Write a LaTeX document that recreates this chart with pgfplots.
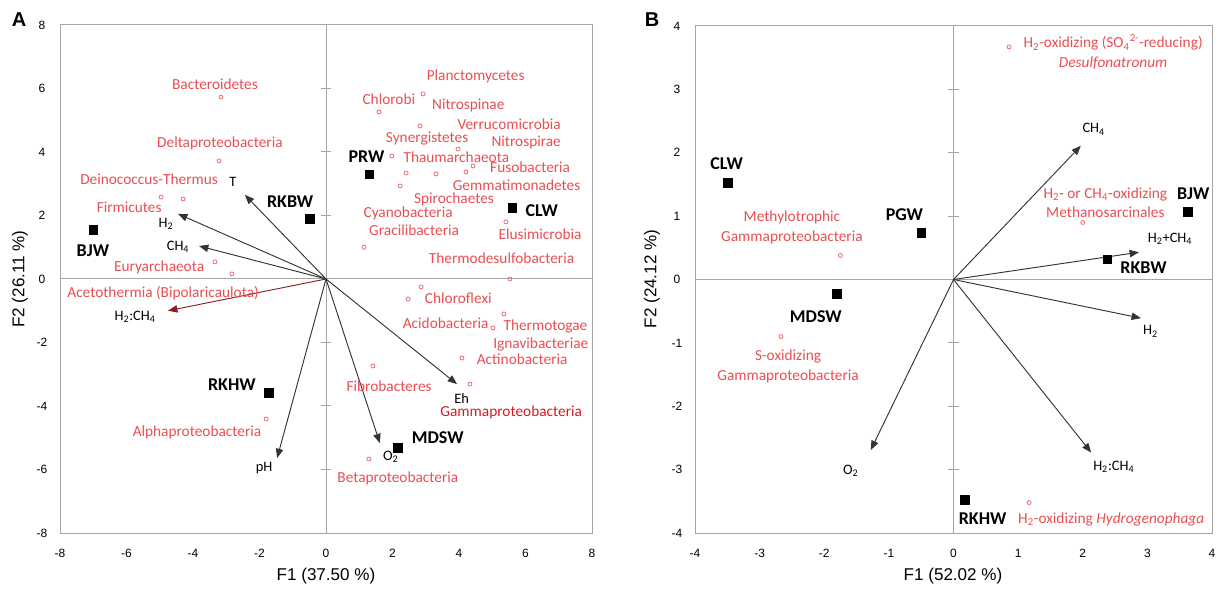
\documentclass[border=0pt]{standalone}
\usepackage{pgfplots}
\pgfplotsset{compat=1.18}
\usepackage{fontspec}
\setmainfont{Carlito}
\newfontfamily\arial{Liberation Sans}
\usetikzlibrary{arrows.meta}

\definecolor{boxgray}{RGB}{165,165,165}
\definecolor{taxred}{RGB}{232,78,82}
\definecolor{gammared}{RGB}{215,25,35}
\definecolor{ptpink}{RGB}{236,110,110}
\definecolor{darkred}{RGB}{140,30,30}

\tikzset{
  taxon/.style={text=taxred, font=\fontsize{11.5}{14.5}\selectfont, inner sep=0pt, align=center},
  site/.style={font=\bfseries\fontsize{13.5}{16}\selectfont, inner sep=0pt},
  vlab/.style={font=\fontsize{10.8}{13}\selectfont, inner sep=0pt},
}
\pgfplotsset{
  biplot/.style={
    scale only axis, anchor=south west, clip=false,
    major tick length=0pt,
    axis line style={draw=boxgray, line width=0.75pt},
    tick label style={font=\arial\fontsize{9}{10}\selectfont},
    yticklabel style={anchor=center, xshift=-13.5pt},
    xticklabel style={anchor=center, yshift=-15pt},
  },
  vec/.style={line width=0.7pt, draw=black!80, -{Triangle[length=7pt,width=5.5pt]}},
  taxpts/.style={only marks, mark=o, mark size=1.5pt, mark options={draw=ptpink, line width=0.6pt}},
  sitepts/.style={only marks, mark=square*, mark size=3.3pt, black},
}

\begin{document}
\begin{tikzpicture}
\useasboundingbox (0,0) rectangle (914.25pt,444pt);

% ---------------- panel A ----------------
\begin{axis}[biplot,
    at={(45pt,44.25pt)}, width=399pt, height=381pt,
    xmin=-8, xmax=8, ymin=-8, ymax=8,
    xtick={-8,-6,-4,-2,0,2,4,6,8}, xticklabels={-8,-6,-4,-2,0,2,4,6,8},
    ytick={-8,-6,-4,-2,0,2,4,6,8}, yticklabels={-8,-6,-4,-2,0,2,4,6,8},
]
\draw[boxgray, line width=0.75pt] (axis cs:0,-8) -- (axis cs:0,8);
\draw[boxgray, line width=0.75pt] (axis cs:-8,0) -- (axis cs:8,0);
\pgfplotsinvokeforeach{-8,-6,-4,-2,0,2,4,6,8}{
  \draw[boxgray, line width=0.75pt] ([xshift=-4pt]axis cs:0,#1) -- ([xshift=4pt]axis cs:0,#1);
}

% environmental vectors
\addplot[vec] coordinates {(0,0) (-2.44,2.65)};
\addplot[vec] coordinates {(0,0) (-4.45,2.05)};
\addplot[vec] coordinates {(0,0) (-3.82,1.04)};
\addplot[vec, draw=darkred] coordinates {(0,0) (-4.75,-1.00)};
\addplot[vec] coordinates {(0,0) (-1.47,-5.64)};
\addplot[vec] coordinates {(0,0) (3.94,-3.31)};
\addplot[vec] coordinates {(0,0) (1.62,-5.17)};

% taxa
\addplot[taxpts] coordinates {
  (-3.16,5.73) (-3.22,3.72) (-4.96,2.58) (-4.30,2.52) (-3.34,0.54) (-2.83,0.16)
  (-1.80,-4.41) (2.92,5.83) (1.59,5.26) (2.83,4.82) (3.97,4.09) (1.98,3.87)
  (4.42,3.56) (4.21,3.37) (2.41,3.34) (3.31,3.31) (2.23,2.93) (1.14,1.00)
  (5.41,1.80) (5.53,0.00) (2.86,-0.25) (2.47,-0.63) (5.02,-1.54) (5.35,-1.10)
  (4.09,-2.49) (1.41,-2.74) (4.33,-3.31) (1.29,-5.67)
};

% sites
\addplot[sitepts] coordinates {
  (-7.00,1.55) (-0.50,1.90) (1.30,3.30) (5.60,2.24) (-1.71,-3.59) (2.17,-5.32)
};

\node[site] at (axis cs:-7.01,0.88) {BJW};
\node[site] at (axis cs:-1.08,2.43) {RKBW};
\node[site] at (axis cs:1.22,3.85) {PRW};
\node[site] at (axis cs:6.49,2.14) {CLW};
\node[site] at (axis cs:-2.83,-3.34) {RKHW};
\node[site] at (axis cs:3.36,-5.00) {MDSW};

\node[vlab] at (axis cs:-2.80,3.06) {T};
\node[vlab] at (axis cs:-4.81,1.73) {H\textsubscript{2}};
\node[vlab] at (axis cs:-4.45,1.01) {CH\textsubscript{4}};
\node[vlab] at (axis cs:-5.74,-1.20) {H\textsubscript{2}:CH\textsubscript{4}};
\node[vlab] at (axis cs:-1.86,-5.95) {pH};
\node[vlab] at (axis cs:4.08,-3.75) {Eh};
\node[vlab] at (axis cs:1.95,-5.61) {O\textsubscript{2}};

\node[taxon] at (axis cs:-3.34,6.14) {Bacteroidetes};
\node[taxon] at (axis cs:-3.19,4.28) {Deltaproteobacteria};
\node[taxon] at (axis cs:-5.32,3.15) {Deinococcus-Thermus};
\node[taxon] at (axis cs:-5.92,2.27) {Firmicutes};
\node[taxon] at (axis cs:-5.02,0.38) {Euryarchaeota};
\node[taxon] at (axis cs:-4.90,-0.44) {Acetothermia (Bipolaricaulota)};
\node[taxon] at (axis cs:-3.88,-4.82) {Alphaproteobacteria};
\node[taxon] at (axis cs:4.50,6.37) {Planctomycetes};
\node[taxon] at (axis cs:1.89,5.66) {Chlorobi};
\node[taxon] at (axis cs:4.28,5.48) {Nitrospinae};
\node[taxon] at (axis cs:5.51,4.88) {Verrucomicrobia};
\node[taxon] at (axis cs:3.04,4.42) {Synergistetes};
\node[taxon] at (axis cs:6.02,4.30) {Nitrospirae};
\node[taxon] at (axis cs:3.92,3.83) {Thaumarchaeota};
\node[taxon] at (axis cs:6.14,3.51) {Fusobacteria};
\node[taxon] at (axis cs:5.73,2.96) {Gemmatimonadetes};
\node[taxon] at (axis cs:3.85,2.50) {Spirochaetes};
\node[taxon] at (axis cs:2.47,2.06) {Cyanobacteria};
\node[taxon] at (axis cs:2.65,1.52) {Gracilibacteria};
\node[taxon] at (axis cs:6.44,1.41) {Elusimicrobia};
\node[taxon] at (axis cs:5.28,0.65) {Thermodesulfobacteria};
\node[taxon] at (axis cs:3.98,-0.60) {Chloroflexi};
\node[taxon] at (axis cs:3.60,-1.39) {Acidobacteria};
\node[taxon] at (axis cs:6.60,-1.51) {Thermotogae};
\node[taxon] at (axis cs:6.46,-2.05) {Ignavibacteriae};
\node[taxon] at (axis cs:5.90,-2.52) {Actinobacteria};
\node[taxon] at (axis cs:1.90,-3.37) {Fibrobacteres};
\node[taxon, text=gammared] at (axis cs:5.57,-4.19) {Gammaproteobacteria};
\node[taxon] at (axis cs:2.16,-6.27) {Betaproteobacteria};
\end{axis}

% ---------------- panel B ----------------
\begin{axis}[biplot,
    at={(521.25pt,44.25pt)}, width=387.75pt, height=380.25pt,
    xmin=-4, xmax=4, ymin=-4, ymax=4,
    xtick={-4,-3,-2,-1,0,1,2,3,4}, xticklabels={-4,-3,-2,-1,0,1,2,3,4},
    ytick={-4,-3,-2,-1,0,1,2,3,4}, yticklabels={-4,-3,-2,-1,0,1,2,3,4},
]
\draw[boxgray, line width=0.75pt] (axis cs:0,-4) -- (axis cs:0,4);
\draw[boxgray, line width=0.75pt] (axis cs:-4,0) -- (axis cs:4,0);
\pgfplotsinvokeforeach{-4,-3,-2,-1,0,1,2,3,4}{
  \draw[boxgray, line width=0.75pt] ([xshift=-4pt]axis cs:0,#1) -- ([xshift=4pt]axis cs:0,#1);
}

\addplot[vec] coordinates {(0,0) (1.97,2.11)};
\addplot[vec] coordinates {(0,0) (2.87,0.43)};
\addplot[vec] coordinates {(0,0) (2.90,-0.61)};
\addplot[vec] coordinates {(0,0) (2.13,-2.73)};
\addplot[vec] coordinates {(0,0) (-1.28,-2.69)};

\addplot[taxpts] coordinates {
  (-1.75,0.38) (-2.67,-0.90) (0.86,3.67) (2.00,0.90) (1.17,-3.52)
};
\addplot[sitepts] coordinates {
  (-3.49,1.53) (-0.50,0.74) (-1.81,-0.22) (3.63,1.07) (2.38,0.32) (0.17,-3.48)
};

\node[site] at (axis cs:-3.51,1.82) {CLW};
\node[site] at (axis cs:-0.76,1.03) {PGW};
\node[site] at (axis cs:-2.13,-0.58) {MDSW};
\node[site] at (axis cs:3.71,1.36) {BJW};
\node[site] at (axis cs:2.94,0.18) {RKBW};
\node[site] at (axis cs:0.45,-3.78) {RKHW};

\node[vlab] at (axis cs:2.17,2.37) {CH\textsubscript{4}};
\node[vlab] at (axis cs:3.35,0.64) {H\textsubscript{2}+CH\textsubscript{4}};
\node[vlab] at (axis cs:3.05,-0.82) {H\textsubscript{2}};
\node[vlab] at (axis cs:2.48,-2.96) {H\textsubscript{2}:CH\textsubscript{4}};
\node[vlab] at (axis cs:-1.59,-3.02) {O\textsubscript{2}};

\node[taxon] at (axis cs:-2.50,0.82) {Methylotrophic\\Gammaproteobacteria};
\node[taxon] at (axis cs:-2.56,-1.37) {S-oxidizing\\Gammaproteobacteria};
\node[taxon] at (axis cs:2.47,3.59) {H\textsubscript{2}-oxidizing (SO\textsubscript{4}\textsuperscript{2-}-reducing)\\\textit{Desulfonatronum}};
\node[taxon] at (axis cs:2.35,1.215) {H\textsubscript{2}- or CH\textsubscript{4}-oxidizing\\Methanosarcinales};
\node[taxon] at (axis cs:2.44,-3.78) {H\textsubscript{2}-oxidizing \textit{Hydrogenophaga}};
\end{axis}

% panel letters and axis titles
\node[font=\arial\bfseries\fontsize{15}{18}\selectfont] at (14.25pt,429pt) {A};
\node[font=\arial\bfseries\fontsize{15}{18}\selectfont] at (489pt,429pt) {B};
\node[font=\arial\fontsize{12.8}{15}\selectfont] at (244.5pt,12pt) {F1 (37.50 \%)};
\node[font=\arial\fontsize{12.8}{15}\selectfont] at (714.75pt,12pt) {F1 (52.02 \%)};
\node[font=\arial\fontsize{12.8}{15}\selectfont, rotate=90] at (15pt,234.75pt) {F2 (26.11 \%)};
\node[font=\arial\fontsize{12.8}{15}\selectfont, rotate=90] at (489pt,234.75pt) {F2 (24.12 \%)};
\end{tikzpicture}
\end{document}
